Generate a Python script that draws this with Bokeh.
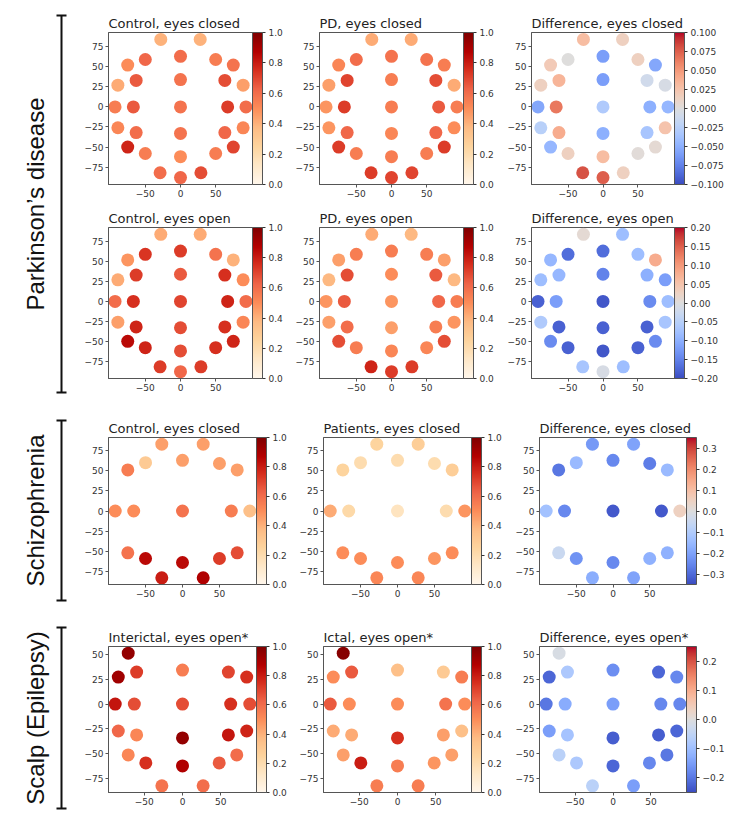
import numpy as np
from bokeh.plotting import figure
from bokeh.models import (Range1d, LinearColorMapper, ColorBar, FixedTicker,
                          CustomJSTickFormatter, ColumnDataSource)
from bokeh.layouts import row, column
from bokeh.embed import file_html
from bokeh.resources import INLINE
from bokeh.core.properties import value

# ---------------- data ----------------
# Parkinson's disease electrode layout (30 channels)
pd_x = [-28, 28, -50, 0, 50, -75, 75, -63, 0, 63, -89, 89, -93, -67, 0, 67, 93,
        -89, -63, 0, 63, 89, -75, -50, 0, 50, 75, -29, 0, 29]
pd_y = [84, 84, 59, 63, 59, 52, 52, 33, 34, 33, 27, 27, 0, 0, 0, 0, 0,
        -26, -32, -33, -32, -26, -50, -58, -62, -58, -50, -82, -88, -82]
pd_ctrl_closed = [0.40, 0.40, 0.62, 0.60, 0.55, 0.50, 0.58, 0.65, 0.58, 0.68, 0.42, 0.45, 0.55, 0.65, 0.58,
                  0.72, 0.60, 0.52, 0.60, 0.58, 0.62, 0.52, 0.78, 0.55, 0.50, 0.55, 0.70, 0.60, 0.62, 0.68]
pd_pd_closed = [0.42, 0.42, 0.60, 0.58, 0.58, 0.52, 0.55, 0.70, 0.55, 0.68, 0.45, 0.42, 0.48, 0.72, 0.55,
                0.65, 0.55, 0.48, 0.62, 0.52, 0.62, 0.50, 0.72, 0.55, 0.55, 0.55, 0.72, 0.72, 0.70, 0.70]
pd_diff_closed = [0.030, 0.015, 0.000, -0.060, 0.015, 0.020, -0.055, 0.035, -0.060, -0.010, 0.015, -0.005,
                  -0.055, 0.065, -0.030, -0.050, -0.045, -0.025, 0.040, -0.050, -0.035, 0.025, -0.045,
                  0.015, 0.030, 0.003, 0.005, 0.080, 0.075, 0.015]
pd_ctrl_open = [0.42, 0.42, 0.74, 0.72, 0.58, 0.48, 0.40, 0.72, 0.65, 0.75, 0.42, 0.50, 0.60, 0.75, 0.70,
                0.78, 0.60, 0.45, 0.78, 0.68, 0.75, 0.52, 0.85, 0.78, 0.68, 0.75, 0.78, 0.72, 0.62, 0.72]
pd_pd_open = [0.42, 0.38, 0.55, 0.55, 0.55, 0.45, 0.45, 0.68, 0.50, 0.65, 0.38, 0.38, 0.48, 0.65, 0.48,
              0.62, 0.55, 0.45, 0.60, 0.45, 0.55, 0.48, 0.68, 0.55, 0.52, 0.52, 0.68, 0.78, 0.72, 0.72]
pd_diff_open = [0.010, -0.080, -0.170, -0.170, -0.080, -0.090, 0.080, -0.090, -0.150, -0.100, -0.080,
                -0.120, -0.180, -0.120, -0.190, -0.140, -0.080, -0.060, -0.180, -0.180, -0.180, -0.070,
                -0.140, -0.180, -0.190, -0.180, -0.140, -0.070, -0.010, -0.080]

# Schizophrenia electrode layout (19 channels)
sz_x = [-28, 28, -50, 0, 50, -74, 74, -91, -66, 0, 66, 91, -74, -50, 0, 50, 74, -28, 28]
sz_y = [83, 83, 60, 63, 59, 51, 51, 0, 0, 0, 0, 0, -52, -59, -64, -59, -52, -83, -83]
sz_ctrl = [0.45, 0.45, 0.30, 0.45, 0.45, 0.55, 0.45, 0.50, 0.50, 0.58, 0.55, 0.35, 0.58, 0.85, 0.85,
           0.72, 0.68, 0.80, 0.88]
sz_pat = [0.25, 0.28, 0.20, 0.20, 0.20, 0.25, 0.28, 0.42, 0.22, 0.15, 0.20, 0.48, 0.50, 0.50, 0.50,
          0.48, 0.50, 0.52, 0.52]
sz_diff = [-0.22, -0.20, -0.15, -0.25, -0.27, -0.28, -0.15, -0.13, -0.25, -0.33, -0.33, 0.05, -0.05,
           -0.23, -0.25, -0.17, -0.17, -0.18, -0.20]

# Scalp (epilepsy) electrode layout (23 channels)
ep_x = [-71, -84, -60, 0, 60, 84, -88, -63, 0, 63, 88, -84, -60, 0, 60, 84, -71, -48, 0, 48, 71, -27, 27]
ep_y = [51, 27, 32, 34, 32, 27, 0, 0, 0, 0, 0, -27, -31, -34, -31, -27, -51, -59, -62, -59, -51, -82, -82]
ep_inter = [0.95, 0.92, 0.72, 0.55, 0.70, 0.75, 0.82, 0.68, 0.68, 0.75, 0.68, 0.62, 0.52, 0.95, 0.82,
            0.78, 0.52, 0.75, 0.88, 0.65, 0.60, 0.58, 0.60]
ep_ictal = [0.98, 0.50, 0.65, 0.35, 0.30, 0.55, 0.65, 0.50, 0.50, 0.58, 0.50, 0.42, 0.42, 0.75, 0.45,
            0.35, 0.45, 0.80, 0.55, 0.48, 0.45, 0.55, 0.55]
ep_diff = [-0.01, -0.22, -0.08, -0.17, -0.22, -0.18, -0.20, -0.13, -0.15, -0.18, -0.18, -0.15, -0.09,
           -0.23, -0.23, -0.22, -0.06, -0.08, -0.22, -0.18, -0.20, -0.06, -0.15]

# tick labels
x_ticks = [-50, 0, 50]
y_ticks_a = [-75, -50, -25, 0, 25, 50, 75]
y_ticks_b = [-75, -50, -25, 0, 25, 50]
cb_ticks_abs = [0.0, 0.2, 0.4, 0.6, 0.8, 1.0]
cb_ticks_pd_closed = [-0.1, -0.075, -0.05, -0.025, 0.0, 0.025, 0.05, 0.075, 0.1]
cb_ticks_pd_open = [-0.2, -0.15, -0.1, -0.05, 0.0, 0.05, 0.1, 0.15, 0.2]
cb_ticks_sz = [-0.3, -0.2, -0.1, 0.0, 0.1, 0.2, 0.3]
cb_ticks_ep = [-0.2, -0.1, 0.0, 0.1, 0.2]

row_labels = ["Parkinson\u2019s disease", "Schizophrenia", "Scalp (Epilepsy)"]

# ---------------- palettes ----------------
ORRD = ["#fff7ec", "#fee8c8", "#fdd49e", "#fdbb84", "#fc8d59", "#ef6548", "#d7301f", "#b30000", "#7f0000"]
COOLWARM = ["#3b4cc0", "#445acc", "#4d68d7", "#5775e1", "#6282ea", "#6c8ef1", "#779af7", "#82a5fb",
            "#8db0fe", "#98b9ff", "#a3c2ff", "#aec9fd", "#b8d0f9", "#c2d5f4", "#ccd9ee", "#d5dbe6",
            "#dddddd", "#e5d8d1", "#ecd3c5", "#f1ccb9", "#f5c4ad", "#f7bba0", "#f7b194", "#f7a687",
            "#f49a7b", "#f18d6f", "#ec7f63", "#e57058", "#de604d", "#d55042", "#cb3e38", "#c0282f",
            "#b40426"]


def interp_palette(anchors, n=256):
    rgb = np.array([[int(c[i:i + 2], 16) for i in (1, 3, 5)] for c in anchors], float)
    pos = np.linspace(0, 1, len(anchors))
    t = np.linspace(0, 1, n)
    out = []
    for tt in t:
        r, g, b = (np.interp(tt, pos, rgb[:, k]) for k in range(3))
        out.append("#%02x%02x%02x" % (int(round(r)), int(round(g)), int(round(b))))
    return out


PAL_ORRD = interp_palette(ORRD)
PAL_CW = interp_palette(COOLWARM)

FONT = "DejaVu Sans"
TXT = "#333333"
EDGE = "#555555"


def fmt(dec):
    return CustomJSTickFormatter(
        code="var s = Math.abs(tick).toFixed(%d); return (tick < -1e-9 ? '\u2212' : '') + s;" % dec)


def panel(title, xs, ys, vals, low, high, pal, cb_ticks, cb_dec, yticks, geo):
    lb, fw, rb, tb, fh, bb = geo
    xmin, xmax = min(xs), max(xs)
    ymin, ymax = min(ys), max(ys)
    px = 0.05 * (xmax - xmin)
    py = 0.05 * (ymax - ymin)
    p = figure(frame_width=fw, frame_height=fh, min_border_left=lb, min_border_right=rb,
               min_border_top=tb, min_border_bottom=bb, toolbar_location=None,
               output_backend="svg", x_range=Range1d(xmin - px, xmax + px),
               y_range=Range1d(ymin - py, ymax + py), title=title)
    p.title.text_font = FONT
    p.title.text_font_size = "13px"
    p.title.text_font_style = "normal"
    p.title.text_color = "#222222"
    p.title.align = "left"
    p.title.standoff = 3
    p.title.offset = 0
    p.grid.visible = False
    p.outline_line_color = EDGE
    p.outline_line_width = 1
    p.background_fill_color = "white"
    p.border_fill_color = "white"
    p.xaxis.ticker = FixedTicker(ticks=x_ticks)
    p.yaxis.ticker = FixedTicker(ticks=yticks)
    for ax in (p.xaxis[0], p.yaxis[0]):
        ax.formatter = fmt(0)
        ax.axis_line_color = EDGE
        ax.major_tick_line_color = EDGE
        ax.major_tick_out = 3
        ax.major_tick_in = 0
        ax.minor_tick_line_color = None
        ax.major_label_text_font = FONT
        ax.major_label_text_font_size = "9px"
        ax.major_label_text_color = TXT
        ax.major_label_standoff = 2
    mapper = LinearColorMapper(palette=pal, low=low, high=high)
    src = ColumnDataSource(dict(x=xs, y=ys, v=vals))
    p.scatter(x="x", y="y", source=src, size=13, line_color=None,
              fill_color={"field": "v", "transform": mapper})
    cb = ColorBar(color_mapper=mapper, ticker=FixedTicker(ticks=cb_ticks), formatter=fmt(cb_dec),
                  width=10, margin=2, padding=0, bar_line_color=EDGE, border_line_color=None,
                  background_fill_color=None, major_tick_out=3, major_tick_in=0,
                  major_tick_line_color=TXT, minor_tick_line_color=None, label_standoff=3,
                  major_label_text_font=FONT, major_label_text_font_size="9px",
                  major_label_text_color=TXT)
    p.add_layout(cb, "right")
    return p


# geometry (left border, frame width, right border, top border, frame height, bottom border)
LABEL_W = 70
colsA = [(38, 144, 40), (27, 144, 41), (27, 143, 76)]
colsB = [(38, 148, 40), (27, 148, 41), (27, 147, 64)]
rowsH = [(32, 152, 21), (22, 151, 22), (37, 147, 23), (39, 146, 30)]


def g(c, r):
    return c + r


r1 = row(
    panel("Control, eyes closed", pd_x, pd_y, pd_ctrl_closed, 0, 1, PAL_ORRD, cb_ticks_abs, 1, y_ticks_a, g(colsA[0], rowsH[0])),
    panel("PD, eyes closed", pd_x, pd_y, pd_pd_closed, 0, 1, PAL_ORRD, cb_ticks_abs, 1, y_ticks_a, g(colsA[1], rowsH[0])),
    panel("Difference, eyes closed", pd_x, pd_y, pd_diff_closed, -0.1, 0.1, PAL_CW, cb_ticks_pd_closed, 3, y_ticks_a, g(colsA[2], rowsH[0])),
)
r2 = row(
    panel("Control, eyes open", pd_x, pd_y, pd_ctrl_open, 0, 1, PAL_ORRD, cb_ticks_abs, 1, y_ticks_a, g(colsA[0], rowsH[1])),
    panel("PD, eyes open", pd_x, pd_y, pd_pd_open, 0, 1, PAL_ORRD, cb_ticks_abs, 1, y_ticks_a, g(colsA[1], rowsH[1])),
    panel("Difference, eyes open", pd_x, pd_y, pd_diff_open, -0.2, 0.2, PAL_CW, cb_ticks_pd_open, 2, y_ticks_a, g(colsA[2], rowsH[1])),
)
r3 = row(
    panel("Control, eyes closed", sz_x, sz_y, sz_ctrl, 0, 1, PAL_ORRD, cb_ticks_abs, 1, y_ticks_a, g(colsB[0], rowsH[2])),
    panel("Patients, eyes closed", sz_x, sz_y, sz_pat, 0, 1, PAL_ORRD, cb_ticks_abs, 1, y_ticks_a, g(colsB[1], rowsH[2])),
    panel("Difference, eyes closed", sz_x, sz_y, sz_diff, -0.35, 0.35, PAL_CW, cb_ticks_sz, 1, y_ticks_a, g(colsB[2], rowsH[2])),
)
r4 = row(
    panel("Interictal, eyes open*", ep_x, ep_y, ep_inter, 0, 1, PAL_ORRD, cb_ticks_abs, 1, y_ticks_b, g(colsB[0], rowsH[3])),
    panel("Ictal, eyes open*", ep_x, ep_y, ep_ictal, 0, 1, PAL_ORRD, cb_ticks_abs, 1, y_ticks_b, g(colsB[1], rowsH[3])),
    panel("Difference, eyes open*", ep_x, ep_y, ep_diff, -0.25, 0.25, PAL_CW, cb_ticks_ep, 1, y_ticks_b, g(colsB[2], rowsH[3])),
)

# left side: group labels with brackets (coordinates in page pixels)
total_h = sum(a + b + c for a, b, c in rowsH)
lab = figure(frame_width=LABEL_W, frame_height=total_h, min_border=0, toolbar_location=None,
             output_backend="svg", x_range=Range1d(0, LABEL_W), y_range=Range1d(total_h, 0),
             x_axis_type=None, y_axis_type=None)
lab.outline_line_color = None
lab.grid.visible = False
br_top = [15, 420, 627]
br_bot = [392, 600, 808]
lab.multi_line(xs=[[56, 66], [56, 66], [56, 66], [56, 66], [56, 66], [56, 66], [61, 61], [61, 61], [61, 61]],
               ys=[[t, t] for t in br_top] + [[b, b] for b in br_bot] + [[t, b] for t, b in zip(br_top, br_bot)],
               line_color="#111111", line_width=2)
lab.text(x=[35, 35, 35], y=[(t + b) / 2 for t, b in zip(br_top, br_bot)], text=row_labels,
         angle=np.pi / 2, text_align="center", text_baseline="middle",
         text_font=value("Liberation Sans"), text_font_size=value("24px"), text_color="#111111")

layout = row(lab, column(r1, r2, r3, r4))
open("out.html", "w", encoding="utf-8").write(file_html(layout, INLINE))
